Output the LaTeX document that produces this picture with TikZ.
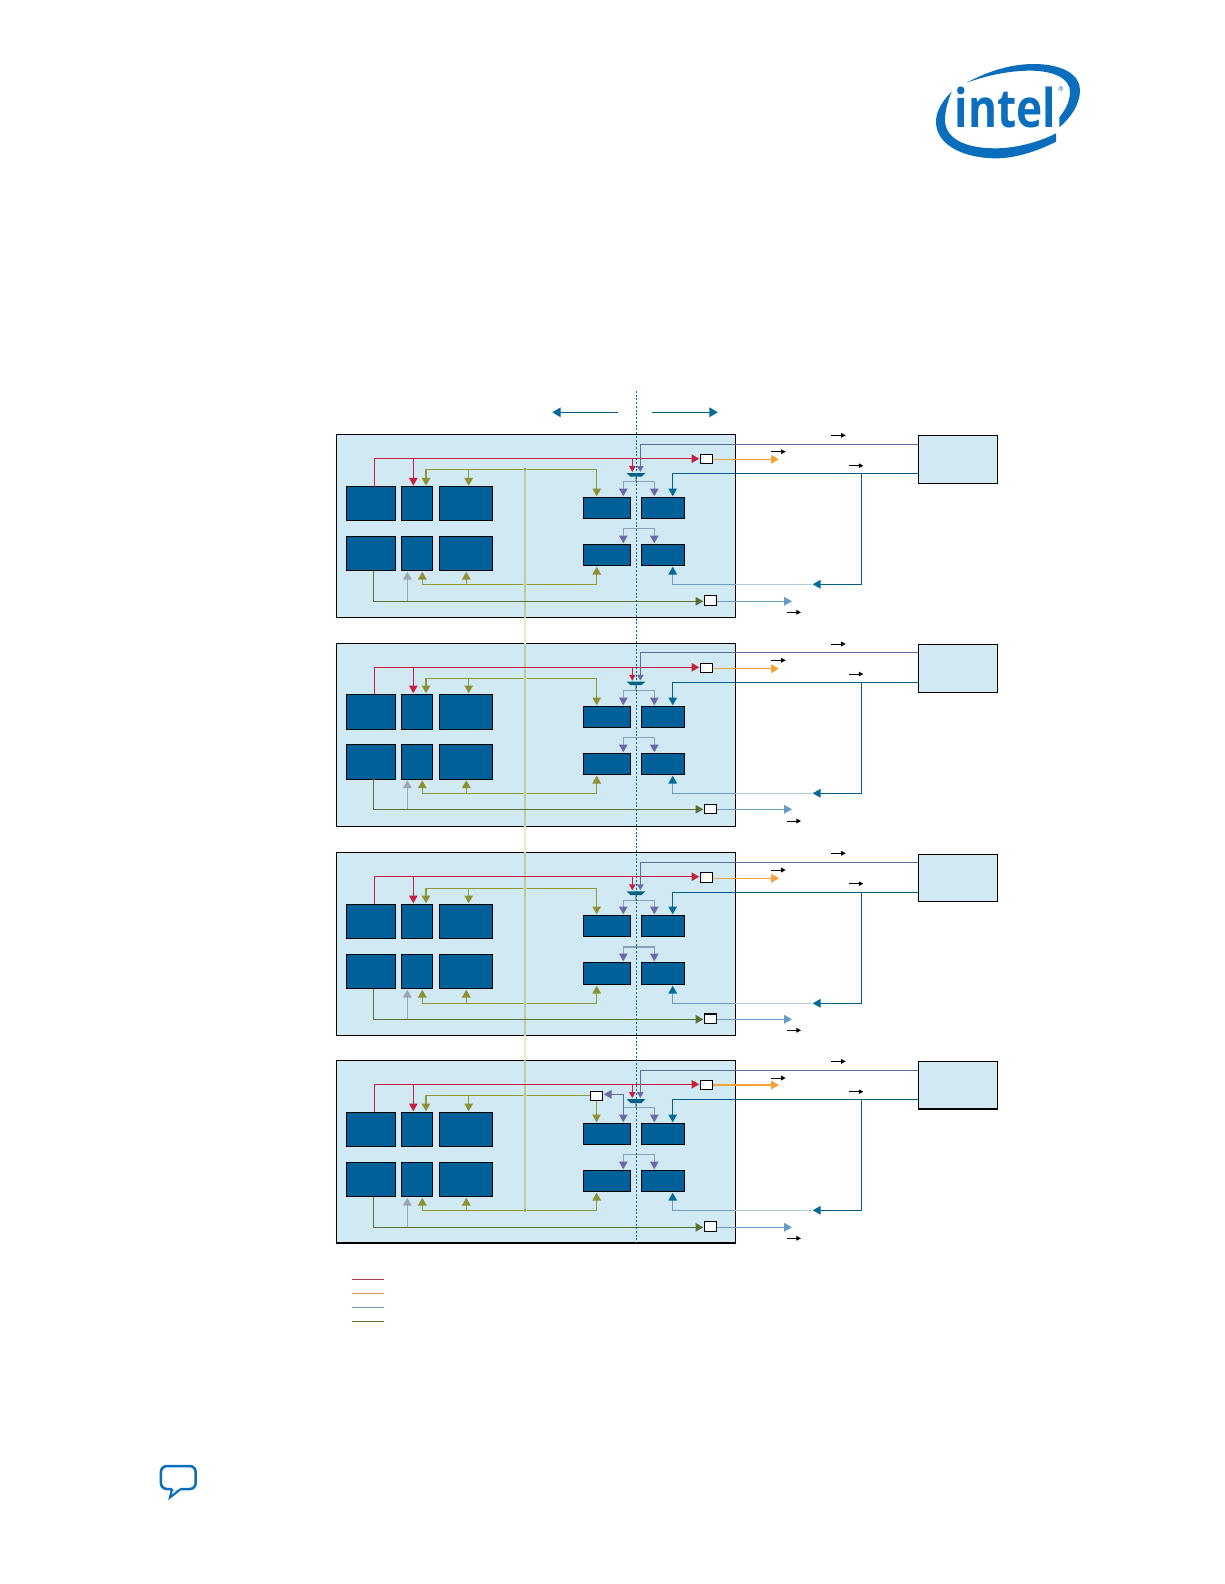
\documentclass[tikz,border=0pt]{standalone}
\usepackage{fontspec}
\usetikzlibrary{arrows.meta}
\newfontfamily\logofont{Open Sans}
\definecolor{cPanel}{HTML}{D0E9F2}
\definecolor{cBlock}{HTML}{00609A}
\definecolor{cRed}{HTML}{C8203F}
\definecolor{cOrange}{HTML}{F7A13C}
\definecolor{cOlive}{HTML}{8F9A35}
\definecolor{cOliveTip}{HTML}{8F9032}
\definecolor{cDark}{HTML}{5C6E34}
\definecolor{cPurple}{HTML}{5E6F9E}
\definecolor{cPurpleTip}{HTML}{6A6BA5}
\definecolor{cTeal}{HTML}{005F85}
\definecolor{cTealTip}{HTML}{006A9A}
\definecolor{cGrayLn}{HTML}{8C9FB5}
\definecolor{cGrayTip}{HTML}{9AA6B2}
\definecolor{cSky}{HTML}{6B9AC4}
\definecolor{cPaleSky}{HTML}{A8CBE0}
\definecolor{cPale}{HTML}{BCCB9A}
\definecolor{cPaleGap}{HTML}{EDE8C8}
\definecolor{cIntel}{HTML}{0A6EBD}
\newcommand{\rectnode}[6]{\node[#2,minimum width={(#5-#3)*0.75pt},minimum height={(#6-#4)*0.75pt}] (#1) at ({(#3+#5)/2},{(#4+#6)/2}) {};}
\tikzset{
  x=0.75pt,y=-0.75pt,
  frame/.style={draw=black,fill=cPanel,line width=.8pt,inner sep=0pt,outer sep=0pt},
  blockbox/.style={draw=black,fill=cBlock,line width=.8pt,inner sep=0pt,outer sep=0pt},
  whitebox/.style={draw=black,fill=white,line width=.8pt,inner sep=0pt,outer sep=0pt},
  dotnode/.style={circle,fill=cOlive,inner sep=0pt,outer sep=0pt,minimum size=2.4pt},
  ln/.style={line width=.85pt},
  tipbig/.style={-{Triangle[length=5.8pt,width=6.4pt,color=#1,fill=#1]},shorten >=.8pt},
  tipsmall/.style={-{Triangle[length=4.4pt,width=4.8pt,color=#1,fill=#1]},shorten >=.8pt},
  kblack/.style={line width=.75pt,black,-{Triangle[length=3.4pt,width=3.4pt]}},
}
\begin{document}
\begin{tikzpicture}
\useasboundingbox (0,0) rectangle (1224,1584);
\fill[white] (0,0) rectangle (1224,1584);

% logo
\begin{scope}[shift={(900,40)},x=0.25pt,y=-0.25pt]
\fill[cIntel] (200,128) .. controls (270,90) and (340,72) .. (400,72) .. controls (490,72) and (540,105) .. (540,150) .. controls (540,195) and (510,235) .. (478,262) -- (478,232) .. controls (500,205) and (510,180) .. (510,155) .. controls (510,115) and (460,92) .. (390,92) .. controls (330,92) and (265,105) .. (200,128) -- cycle;
\fill[cIntel] (155,155) .. controls (125,185) and (108,215) .. (108,245) .. controls (108,315) and (190,355) .. (290,355) .. controls (350,355) and (420,330) .. (468,305) -- (468,280) .. controls (420,305) and (350,325) .. (285,325) .. controls (195,325) and (135,295) .. (135,240) .. controls (135,210) and (145,180) .. (155,155) -- cycle;
\end{scope}
\node[anchor=base west,inner sep=0pt,text=cIntel,font=\logofont\bfseries\fontsize{40}{40}\selectfont,xscale=.83] (logotext) at (954.5,127.3) {intel};
\node[anchor=center,inner sep=0pt,text=cIntel,font=\logofont\fontsize{5}{5}\selectfont] (logoreg) at (1061,89) {®};

% top direction arrows
\coordinate (topLa) at (617.7,412.3);
\coordinate (topLb) at (552.3,412.3);
\coordinate (topRa) at (652,412.3);
\coordinate (topRb) at (717.7,412.3);
\draw[ln,cTeal,-{Triangle[length=6.2pt,width=7.2pt,color=cTealTip,fill=cTealTip]}] (topLa) -- (topLb);
\draw[ln,cTeal,-{Triangle[length=6.2pt,width=7.2pt,color=cTealTip,fill=cTealTip]}] (topRa) -- (topRb);

\foreach \p/\yT/\yB/\yRed/\yOl/\yLTa/\yLTb/\yLBa/\yLBb/\yMa/\yMb/\yDa/\yDb/\yEa/\yEb/\yGa/\yGb/\yOll/\yBtm/\yFa/\yFb/\yPu/\yTe/\yRa/\yRb/\yOr/\yLa/\yLb/\kA/\kB/\kC/\kD in {
 1/434.5/617.5/458.7/469.3/486.7/520.3/536.3/570.7/473/476.7/497.3/518.7/544.3/565.7/481.7/528.3/584.3/601.3/435.3/483.3/444.3/473.3/454.3/463.3/459.3/595.3/605.7/435.3/451.7/465.7/612.3,
 2/643.7/826.3/667.3/678.3/694.3/729.3/744.3/779.3/681.7/685/706.3/727.7/753.3/774.7/690.3/737.3/793.3/809.3/644.3/692.3/652.7/682.3/663.3/672.7/668.7/804.3/813.7/644/660.3/674/821,
 3/852.7/1035.3/876.7/888.3/904.3/938.7/954.3/988.7/891.3/895/915.3/936.7/962.3/984.7/900.3/947/1003.3/1019.3/854.3/901.3/862.7/892.3/872.3/882.7/878.3/1014/1023.7/853.3/870/883.7/1030.3,
 4/1060.3/1243/1084.3/1095.3/1112.3/1146.7/1162.3/1196.7/1099/1103/1123.3/1144.7/1170.3/1191.7/1107.7/1154.7/1210.3/1227.3/1061.4/1109/1070.7/1099.3/1080.3/1089.3/1085/1221.3/1231.7/1061.4/1078/1091.7/1238.3}
{
\begin{scope}[name prefix=p\p-]
  \rectnode{frame}{frame}{336.5}{\yT}{735.5}{\yB}
  \rectnode{ext}{frame}{918.3}{\yFa}{997.7}{\yFb}
  % blocks
  \rectnode{At}{blockbox}{346.3}{\yLTa}{395.7}{\yLTb}
  \rectnode{Bt}{blockbox}{401.3}{\yLTa}{432.7}{\yLTb}
  \rectnode{Ct}{blockbox}{439.3}{\yLTa}{492.7}{\yLTb}
  \rectnode{Ab}{blockbox}{346.3}{\yLBa}{395.7}{\yLBb}
  \rectnode{Bb}{blockbox}{401.3}{\yLBa}{432.7}{\yLBb}
  \rectnode{Cb}{blockbox}{439.3}{\yLBa}{492.7}{\yLBb}
  \rectnode{Dt}{blockbox}{583.3}{\yDa}{630.7}{\yDb}
  \rectnode{Et}{blockbox}{641.3}{\yDa}{684.7}{\yDb}
  \rectnode{Db}{blockbox}{583.3}{\yEa}{630.7}{\yEb}
  \rectnode{Eb}{blockbox}{641.3}{\yEa}{684.7}{\yEb}
  \rectnode{boxR}{whitebox}{700.3}{\yRa}{712.7}{\yRb}
  \rectnode{boxL}{whitebox}{704.3}{\yLa}{716.7}{\yLb}
  \ifnum\p=4
    \rectnode{boxM}{whitebox}{590.3}{1091.3}{602.7}{1100.7}
  \fi
  % pale vertical inside the panel
  \node[dotnode] (dotH) at (525,\yOl) {};
  \node[dotnode] (dotL) at (525,\yOll) {};
  \ifnum\p=1
    \draw[ln,cPale] (dotH) -- (frame.south -| dotH);
  \else\ifnum\p=4
    \draw[ln,cPale] (frame.north -| dotH) -- (dotL);
  \else
    \draw[ln,cPale] (frame.north -| dotH) -- (frame.south -| dotH);
  \fi\fi
  % olive top
  \coordinate (oA) at (426,\yOl);
  \coordinate (oB) at (468.7,\yOl);
  \coordinate (oD) at (596.7,\yOl);
  \draw[ln,cOlive,tipbig=cOliveTip] (dotH) -- (oA) -- (oA |- Bt.north);
  \draw[ln,cOlive,tipbig=cOliveTip] (oB) -- (oB |- Ct.north);
  \ifnum\p=4
    \draw[ln,cOlive] (dotH) -- (boxM.west |- dotH);
    \draw[ln,cOlive,tipbig=cOliveTip] (boxM.south) -- (boxM.south |- Dt.north);
  \else
    \draw[ln,cOlive,tipbig=cOliveTip] (dotH) -- (oD) -- (oD |- Dt.north);
  \fi
  % olive lower
  \coordinate (lA) at (422.3,\yOll);
  \coordinate (lB) at (466.3,\yOll);
  \coordinate (lD) at (596.7,\yOll);
  \draw[ln,cOlive,tipbig=cOliveTip] (dotL) -- (lA) -- (lA |- Bb.south);
  \draw[ln,cOlive,tipbig=cOliveTip] (lB) -- (lB |- Cb.south);
  \draw[ln,cOlive,tipbig=cOliveTip] (dotL) -- (lD) -- (lD |- Db.south);
  % bottom dark olive
  \coordinate (bA) at (373.3,\yBtm);
  \coordinate (bG) at (407.3,\yBtm);
  \draw[ln,cDark,tipbig=cDark] (Ab.south -| bA) -- (bA) -- (boxL.west |- bA);
  \draw[ln,cGrayTip,tipbig=cGrayTip] (bG) -- (bG |- Bb.south);
  % sky output
  \coordinate (skyEnd) at (793,\yBtm);
  \draw[ln,cSky,tipbig=cSky] (boxL.east |- skyEnd) -- (skyEnd);
  % red
  \coordinate (rA) at (374.3,\yRed);
  \coordinate (rB) at (413.3,\yRed);
  \coordinate (rM) at (632.3,\yRed);
  \coordinate (muxR) at (632.3,\yMa);
  \coordinate (muxP) at (640.3,\yMa);
  \coordinate (muxS) at (636,\yMb);
  \fill[cTeal] (626.7,\yMa) -- (645.3,\yMa) -- (641.5,\yMb) -- (630.5,\yMb) -- cycle;
  \draw[ln,cRed,tipbig=cRed] (At.north -| rA) -- (rA) -- (boxR.west |- rA);
  \draw[ln,cRed,tipbig=cRed] (rB) -- (rB |- Bt.north);
  \draw[ln,cRed,tipsmall=cRed] (rM) -- (muxR);
  % orange
  \coordinate (orEnd) at (780,\yOr);
  \draw[ln,cOrange,tipbig=cOrange] (boxR.east |- orEnd) -- (orEnd);
  % purple
  \coordinate (puC) at (640.3,\yPu);
  \draw[ln,cPurple,tipsmall=cPurpleTip] (ext.west |- puC) -- (puC) -- (muxP);
  % gray distribution
  \coordinate (gL) at (623.3,\yGa);
  \coordinate (gR) at (654.3,\yGa);
  \coordinate (gS) at (636,\yGa);
  \draw[ln,cGrayLn] (muxS) -- (gS);
  \draw[ln,cGrayLn,tipbig=cPurpleTip] (gS) -- (gR) -- (gR |- Et.north);
  \ifnum\p=4
    \coordinate (gL) at (623.3,1094.3);
    \draw[ln,cGrayLn] (gS) -- (623.3,\yGa);
    \draw[ln,cPurple,tipbig=cPurpleTip] (gL) -- (boxM.east |- gL);
    \draw[ln,cPurple,tipbig=cPurpleTip] (gL) -- (gL |- Dt.north);
  \else
    \draw[ln,cGrayLn,tipbig=cPurpleTip] (gS) -- (gL) -- (gL |- Dt.north);
  \fi
  \coordinate (hL) at (623.3,\yGb);
  \coordinate (hR) at (654.3,\yGb);
  \draw[ln,cGrayLn,tipbig=cPurpleTip] (hL) -- (hL |- Db.north);
  \draw[ln,cGrayLn,tipbig=cPurpleTip] (hL) -- (hR) -- (hR |- Eb.north);
  % teal
  \coordinate (tC) at (672.7,\yTe);
  \coordinate (tV) at (861.7,\yTe);
  \coordinate (tW) at (861.7,\yOll);
  \coordinate (tArr) at (811.7,\yOll);
  \coordinate (tFade) at (735,\yOll);
  \coordinate (tLow) at (672.7,\yOll);
  \draw[ln,cPaleSky] (tArr) -- (tFade);
  \draw[ln,cSky,tipbig=cTealTip] (tFade) -- (tLow) -- (tLow |- Eb.south);
  \draw[ln,cTeal,tipbig=cTealTip] (ext.west |- tC) -- (tC) -- (tC |- Et.north);
  \draw[ln,cTeal,tipbig=cTealTip] (tV) -- (tW) -- (tArr);
  % small black arrows
  \coordinate (kAa) at (831,\kA);   \coordinate (kAb) at (845.7,\kA);
  \coordinate (kBa) at (771,\kB);   \coordinate (kBb) at (785.7,\kB);
  \coordinate (kCa) at (849,\kC);   \coordinate (kCb) at (863.3,\kC);
  \coordinate (kDa) at (787,\kD);   \coordinate (kDb) at (801,\kD);
  \draw[kblack] (kAa) -- (kAb);
  \draw[kblack] (kBa) -- (kBb);
  \draw[kblack] (kCa) -- (kCb);
  \draw[kblack] (kDa) -- (kDb);
\end{scope}
}

% pale line in the gaps between panels
\draw[ln,cPaleGap] (p1-frame.south -| p1-dotH) -- (p2-frame.north -| p1-dotH);
\draw[ln,cPaleGap] (p2-frame.south -| p1-dotH) -- (p3-frame.north -| p1-dotH);
\draw[ln,cPaleGap] (p3-frame.south -| p1-dotH) -- (p4-frame.north -| p1-dotH);

% dotted centre line
\coordinate (dashTop) at (636.3,391);
\draw[line width=.75pt,cTealTip,dash pattern=on 1.5pt off 1.3pt] (dashTop) -- (dashTop |- p4-frame.south);

% legend
\draw[line width=.8pt,cRed!80!gray] (352,1279.3) -- (384,1279.3);
\draw[line width=.8pt,cOrange!85!gray] (352,1293.3) -- (384,1293.3);
\draw[line width=.8pt,cSky!80!gray] (352,1307.3) -- (384,1307.3);
\draw[line width=.8pt,cDark] (352,1321.3) -- (384,1321.3);

% comment icon
\draw[cIntel,line width=1.9pt,line join=round,fill=white,rounded corners=4.5pt] (160.9,1466) rectangle (195.7,1489);
\fill[white] (171.5,1487) rectangle (180,1490);
\draw[cIntel,line width=1.6pt,line join=miter] (172,1489) -- (170,1497.5) -- (180,1489.5);
\end{tikzpicture}
\end{document}
